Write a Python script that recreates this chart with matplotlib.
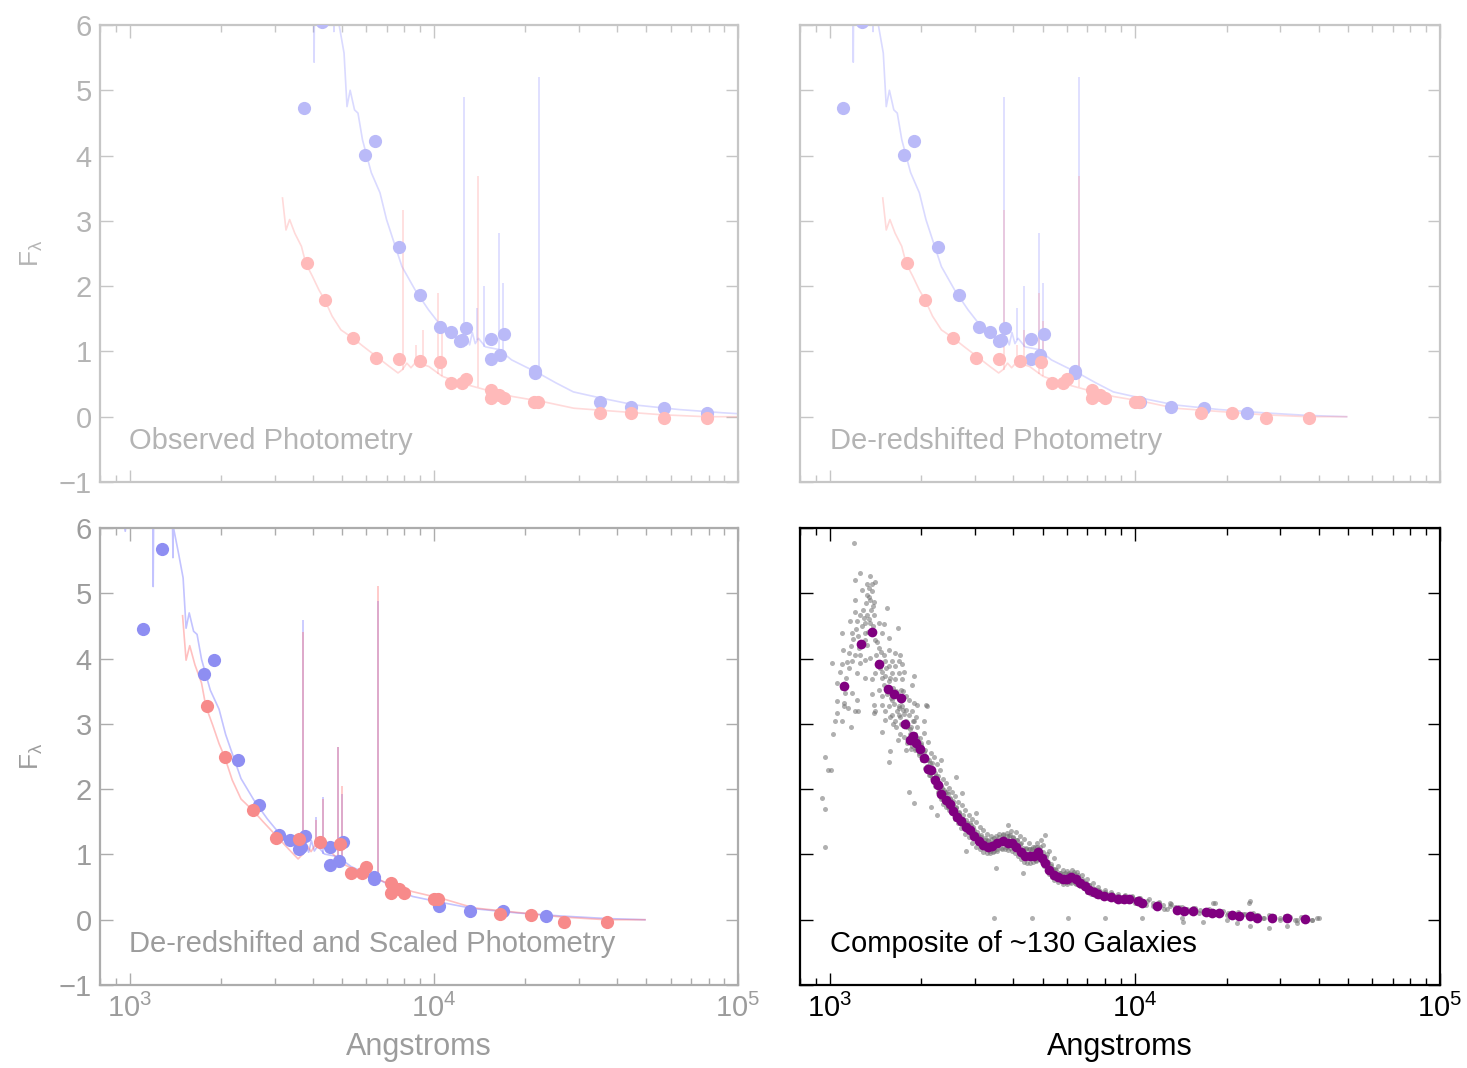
import numpy as np
import matplotlib
matplotlib.use('Agg')
import matplotlib.pyplot as plt

plt.rcParams['font.family'] = ['Liberation Sans', 'DejaVu Sans']
plt.rcParams['mathtext.default'] = 'regular'

# redshifts and scale factors of the two example galaxies
z_blue, z_red = 2.38, 1.13
scale_blue, scale_red = 0.94, 1.39

# rest-frame model spectra (flux in observed units)
blue_wave = np.array([950, 968, 985, 1192, 1196, 1200, 1385, 1389, 1393, 1449, 1500, 1534, 1571,
                      1624, 1667, 1725, 1843, 1969, 2069, 2175, 2325, 2570, 2840, 3138, 3461,
                      3707, 3800, 3880, 3960, 4050, 4150, 4373, 4833, 5333, 5888, 6518, 7443,
                      8506, 10380, 13540, 18890, 26360, 36810, 49430])
blue_flux = np.array([6.6, 6.33, 6.6, 6.6, 5.43, 6.6, 6.4, 5.9, 6.4, 5.97, 5.57, 4.75, 5.0,
                      4.70, 4.65, 4.24, 3.74, 3.43, 3.02, 2.71, 2.30, 1.94, 1.64, 1.38, 1.23,
                      1.07, 1.22, 1.10, 1.29, 1.12, 1.20, 1.07, 1.03, 0.87, 0.77, 0.67, 0.52,
                      0.38, 0.29, 0.18, 0.11, 0.06, 0.02, 0.0])
red_wave = np.array([1494, 1534, 1577, 1640, 1724, 1782, 1874, 1969, 2056, 2175, 2325, 2552,
                     2748, 3065, 3352, 3581, 3700, 3830, 3950, 4159, 4300, 4520, 5000, 5715,
                     6970, 8506, 10740, 13540, 18890, 26360, 36810, 49430])
red_flux = np.array([3.35, 2.86, 3.02, 2.81, 2.61, 2.35, 2.15, 1.94, 1.79, 1.54, 1.33, 1.20,
                     1.08, 0.91, 0.77, 0.67, 0.72, 0.82, 0.75, 0.87, 0.80, 0.77, 0.62, 0.52,
                     0.41, 0.31, 0.23, 0.13, 0.08, 0.03, 0.0, 0.0])

# emission lines: rest wavelength, continuum base, peak
line_wave = np.array([3727, 4102, 4340, 4861, 5007, 6563])
blue_line_base = np.array([1.08, 1.18, 1.07, 1.03, 1.0, 0.67])
blue_line_peak = np.array([4.89, 1.67, 2.0, 2.82, 2.05, 5.2])
red_line_base = np.array([0.72, 0.85, 0.82, 0.65, 0.62, 0.45])
red_line_peak = np.array([3.17, 1.1, 1.33, 1.9, 1.47, 3.68])

# observed photometry
blue_phot_wave = np.array([3735, 4306, 5930, 6400, 7680, 8995, 10470, 11380, 12170, 12360, 12740,
                           15400, 15400, 16480, 16990, 21480, 21480, 35170, 44460, 57140, 79030])
blue_phot_flux = np.array([4.73, 6.04, 4.01, 4.23, 2.60, 1.87, 1.38, 1.30, 1.16, 1.18, 1.36,
                           1.19, 0.89, 0.95, 1.26, 0.67, 0.70, 0.23, 0.15, 0.14, 0.06])
red_phot_wave = np.array([3820, 4375, 5418, 6444, 7670, 8995, 10470, 11380, 12360, 12740, 15400,
                          15400, 16370, 16990, 21340, 21980, 35170, 44460, 57140, 79030])
red_phot_flux = np.array([2.36, 1.79, 1.21, 0.90, 0.89, 0.86, 0.84, 0.52, 0.52, 0.58, 0.41,
                          0.29, 0.34, 0.29, 0.23, 0.23, 0.06, 0.05, -0.02, -0.02])

# composite (binned median) of ~130 galaxies
comp_wave = [1119, 1266, 1375, 1455, 1550, 1624, 1712, 1770, 1830, 1874, 1918, 1983, 2037, 2106,
             2154, 2212, 2264, 2325, 2404, 2486, 2545, 2614, 2702, 2793, 2888, 2984, 3084, 3188,
             3297, 3408, 3524, 3706, 3831, 3960, 4091, 4230, 4373, 4521, 4673, 4833, 4963, 5081,
             5253, 5431, 5615, 5801, 5998, 6200, 6411, 6628, 6853, 7085, 7325, 7573, 7957, 8363,
             8794, 9243, 9557, 10214, 10560, 11860, 13770, 14480, 15460, 17090, 17970, 18890,
             20890, 21930, 23840, 25060, 28180, 31620, 36140]
comp_flux = [3.58, 4.23, 4.40, 3.91, 3.53, 3.46, 3.40, 3.00, 2.75, 2.81, 2.71, 2.62, 2.48, 2.31,
             2.29, 2.14, 2.06, 1.92, 1.84, 1.78, 1.67, 1.57, 1.51, 1.42, 1.37, 1.29, 1.20, 1.15,
             1.12, 1.13, 1.18, 1.20, 1.18, 1.18, 1.12, 1.04, 0.98, 0.98, 0.98, 1.04, 0.95, 0.87,
             0.76, 0.68, 0.65, 0.62, 0.62, 0.65, 0.62, 0.57, 0.51, 0.46, 0.43, 0.40, 0.37, 0.35,
             0.32, 0.32, 0.32, 0.29, 0.26, 0.21, 0.15, 0.14, 0.14, 0.12, 0.11, 0.11, 0.08, 0.06,
             0.06, 0.03, 0.03, 0.03, 0.01]

# individual galaxy photometry behind the composite
grey_uv = [
    (1200, 5.77), (1262, 5.31), (1214, 5.21), (1361, 5.27), (1414, 5.17), (1344, 5.08), (1377, 5.03),
    (1327, 4.98), (1361, 4.90), (1396, 4.87), (1209, 4.90), (1537, 4.77), (1209, 4.71), (1262, 4.67),
    (1327, 4.67), (1396, 4.67), (1170, 4.57), (1230, 4.57), (1303, 4.54), (1361, 4.54), (1449, 4.54),
    (1505, 4.53), (1674, 4.47), (1098, 4.39), (1184, 4.39), (1310, 4.39), (1486, 4.39), (1563, 4.31),
    (1310, 4.29), (1414, 4.29), (1327, 4.21), (1246, 4.16), (1449, 4.16), (1104, 4.13), (1155, 4.08),
    (1209, 4.06), (1563, 4.13), (1644, 4.08), (1708, 4.06), (1505, 4.06), (1018, 3.93), (1098, 3.91),
    (1184, 3.96), (1262, 3.93), (1310, 3.98), (1361, 4.01), (1524, 3.96), (1603, 3.96), (1686, 3.96),
    (1563, 3.88), (1644, 3.88), (1729, 3.91), (1230, 3.78), (1414, 3.78), (1486, 3.80), (1524, 3.73),
    (1603, 3.78), (1686, 3.78), (1751, 3.80), (1889, 3.73), (1310, 3.70), (1377, 3.68), (1563, 3.65),
    (1644, 3.68), (1729, 3.68), (1865, 3.60), (1126, 3.47), (1184, 3.47), (1377, 3.45), (1449, 3.52),
    (1486, 3.42), (1603, 3.37), (1774, 3.42), (1820, 3.37), (1889, 3.32), (2064, 3.29), (1057, 3.35),
    (1112, 3.32), (1230, 3.37), (1396, 3.29), (1486, 3.29), (1563, 3.27), (1686, 3.27), (1774, 3.22),
    (1865, 3.19), (1112, 3.27), (1057, 3.17), (1236, 3.19), (1414, 3.19), (1524, 3.19), (1603, 3.14),
    (1686, 3.14), (1820, 3.14), (1914, 3.11), (1524, 3.06), (1644, 3.04), (1774, 3.04), (1889, 3.04),
    (2037, 3.04), (1650, 2.95), (1700, 2.85), (1720, 3.00), (1760, 2.80), (1790, 2.95), (1800, 2.70),
    (1830, 2.85), (1850, 2.62), (1700, 3.10), (1750, 3.15), (1680, 2.75), (1620, 3.00), (1580, 3.10),
    (1850, 2.95), (1780, 2.60),
    (1060, 3.62), (1080, 3.80), (1095, 3.55), (1130, 3.70), (1140, 3.95), (1160, 3.85), (1175, 4.20),
    (1190, 4.30), (1220, 4.45), (1240, 4.35), (1255, 4.05), (1280, 4.50), (1290, 4.75), (1300, 4.62),
    (1320, 4.85), (1335, 4.40), (1350, 4.60), (1370, 4.75), (1385, 4.50), (1400, 4.40), (1420, 4.05),
    (1430, 4.25), (1445, 3.95), (1460, 3.85), (1470, 4.10), (1490, 3.70), (1510, 3.60), (1530, 3.85),
    (1545, 3.45), (1560, 3.55), (1580, 3.70), (1595, 3.40), (1610, 3.55), (1630, 3.30), (1650, 3.50),
    (1665, 3.20), (1680, 3.45), (1695, 3.25), (1720, 3.35), (1740, 3.50), (1280, 5.05), (1330, 5.15),
    (1350, 4.95), (1375, 5.15), (1390, 4.80), (1100, 3.05), (1150, 3.25), (1180, 2.95), (1030, 2.85),
    (1045, 3.05),
]
grey_band = [
    (1880, 3.05), (1905, 2.85), (1925, 2.62), (1940, 2.95), (1960, 2.55), (1985, 2.78),
    (2000, 2.70), (2020, 2.45), (2040, 2.86), (2060, 2.60), (2080, 2.35), (2095, 2.72),
    (2110, 2.45), (2130, 2.22), (2150, 2.55), (2165, 2.40), (2185, 2.15), (2205, 2.50),
    (2220, 2.25), (2240, 2.05), (2255, 2.38), (2270, 2.20), (2290, 1.95), (2305, 2.30),
    (2320, 2.05), (2340, 1.86), (2360, 2.15), (2375, 1.98), (2395, 1.80), (2410, 2.10),
    (2430, 1.95), (2450, 1.72), (2465, 2.02), (2480, 1.85), (2500, 1.70), (2520, 1.95),
    (2540, 1.82), (2560, 1.62), (2580, 1.90), (2600, 1.72), (2625, 1.55), (2645, 1.80),
    (2665, 1.65), (2690, 1.50), (2710, 1.75), (2735, 1.60), (2760, 1.42), (2780, 1.68),
    (2800, 1.52), (2830, 1.38), (2855, 1.60), (2880, 1.48), (2910, 1.32), (2935, 1.55),
    (2960, 1.42), (2990, 1.28), (3015, 1.50), (3040, 1.35), (3075, 1.22), (3100, 1.42),
    (3130, 1.30), (3160, 1.15), (3190, 1.38), (3220, 1.25), (3250, 1.08), (3280, 1.32),
    (3310, 1.20), (3345, 1.05), (3375, 1.28), (3410, 1.18), (3440, 1.03), (3470, 1.25),
    (3510, 1.20), (3545, 1.05), (3580, 1.26), (3620, 1.22), (3660, 1.08), (3700, 1.30),
    (3740, 1.25), (3780, 1.12), (3820, 1.33), (3860, 1.28), (3900, 1.10), (3945, 1.36),
    (3990, 1.25), (4030, 1.10), (4075, 1.35), (4120, 1.22), (4160, 1.08), (4205, 1.28),
    (4250, 1.18), (4300, 1.02), (4345, 1.24), (4390, 1.10), (4440, 0.98), (4490, 1.18),
    (4540, 1.08), (4590, 0.94), (4640, 1.12), (4690, 1.05), (4740, 0.92), (4790, 1.12),
    (4840, 1.08), (4890, 0.95), (4940, 1.22), (4990, 1.15), (5040, 0.98), (5090, 1.30),
    (5140, 1.00), (5200, 0.84), (5250, 1.05), (5310, 0.86), (5370, 0.74), (5430, 0.95),
    (5490, 0.78), (5550, 0.66), (5610, 0.82), (5680, 0.72), (5740, 0.60), (5800, 0.76),
    (5870, 0.70), (5940, 0.58), (6010, 0.74), (6080, 0.70), (6150, 0.58), (6220, 0.76),
    (6300, 0.70), (6380, 0.57), (6450, 0.73), (6530, 0.66), (6610, 0.54), (6700, 0.69),
    (6790, 0.60), (6880, 0.48), (6970, 0.62), (7070, 0.53), (7170, 0.43), (7270, 0.56),
    (7380, 0.47), (7490, 0.39), (7600, 0.50), (7720, 0.44), (7840, 0.36), (7960, 0.46),
    (8090, 0.40), (8220, 0.33), (8360, 0.43), (8500, 0.38), (8650, 0.31), (8800, 0.40),
    (8960, 0.35), (9120, 0.29), (9290, 0.38), (9460, 0.34), (9640, 0.28), (9820, 0.36),
    (10000, 0.32), (10200, 0.26), (10400, 0.34), (10650, 0.29), (10900, 0.23), (11150, 0.31),
    (11450, 0.25), (11750, 0.20), (12050, 0.27), (12400, 0.22), (12750, 0.17), (13100, 0.24),
    (13500, 0.19), (13900, 0.14), (14300, 0.20), (14800, 0.17), (15300, 0.12), (15800, 0.18),
    (16300, 0.15), (16900, 0.11), (17500, 0.16), (18100, 0.13), (18800, 0.09), (19500, 0.14),
    (20200, 0.11), (21000, 0.07), (21800, 0.12), (22600, 0.09), (23500, 0.05), (24400, 0.10),
    (25400, 0.07), (26400, 0.03), (27500, 0.08), (28600, 0.05), (29800, 0.02), (31000, 0.06),
    (32300, 0.04), (33600, 0.00), (35000, 0.04), (36500, 0.02), (38000, -0.01), (39500, 0.02),
]
grey_inner = [
    (1710, 3.52), (1725, 3.28), (1745, 3.22), (1760, 2.98), (1785, 3.02), (1810, 2.76),
    (1835, 2.92), (1860, 2.66), (1885, 2.84), (1910, 2.60), (1935, 2.78), (1960, 2.52),
    (1990, 2.68), (2010, 2.44), (2035, 2.57), (2060, 2.33), (2085, 2.45), (2110, 2.21),
    (2135, 2.40), (2160, 2.17), (2185, 2.29), (2210, 2.05), (2235, 2.20), (2260, 1.96),
    (2285, 2.09), (2310, 1.85), (2335, 2.02), (2360, 1.78), (2385, 1.96), (2410, 1.72),
    (2435, 1.92), (2460, 1.68), (2490, 1.87), (2515, 1.63), (2540, 1.78), (2570, 1.55),
    (2595, 1.71), (2630, 1.48), (2665, 1.63), (2700, 1.40), (2740, 1.54), (2780, 1.31),
    (2820, 1.48), (2860, 1.26), (2900, 1.45), (2940, 1.18), (2980, 1.38), (3020, 1.12),
    (3060, 1.30), (3100, 1.08), (3140, 1.26), (3180, 1.04), (3225, 1.22), (3270, 1.02),
    (3315, 1.22), (3360, 1.02), (3405, 1.23), (3450, 1.05), (3500, 1.28), (3550, 1.08),
    (3600, 1.31), (3650, 1.10), (3700, 1.32), (3750, 1.08), (3800, 1.29), (3850, 1.07),
    (3900, 1.30), (3950, 1.06), (4000, 1.27), (4050, 1.02), (4100, 1.22), (4150, 0.98),
    (4200, 1.16), (4250, 0.93), (4300, 1.10), (4350, 0.89), (4400, 1.08), (4450, 0.87),
    (4500, 1.09), (4550, 0.87), (4600, 1.09), (4650, 0.88), (4700, 1.12), (4750, 0.90),
    (4800, 1.18), (4850, 0.94), (4900, 1.12), (4950, 0.88), (5000, 1.04), (5050, 0.82),
    (5100, 0.96), (5150, 0.76), (5200, 0.89), (5250, 0.70), (5300, 0.83), (5350, 0.65),
    (5400, 0.78), (5450, 0.61), (5500, 0.76), (5600, 0.58), (5700, 0.72), (5800, 0.55),
    (5900, 0.71), (6000, 0.55), (6100, 0.72), (6200, 0.56), (6300, 0.73), (6400, 0.55),
    (6500, 0.68), (6600, 0.52), (6700, 0.63), (6800, 0.48), (6900, 0.57), (7000, 0.43),
    (7100, 0.53), (7200, 0.40), (7300, 0.49), (7450, 0.37), (7600, 0.46), (7800, 0.35),
    (8000, 0.42), (8200, 0.33), (8400, 0.40), (8600, 0.30), (8800, 0.37), (9050, 0.28),
    (9300, 0.37), (9550, 0.28), (9800, 0.35), (10050, 0.26), (10300, 0.33), (10650, 0.24),
    (11000, 0.29), (11500, 0.21), (12000, 0.25), (12500, 0.17), (13000, 0.21), (13500, 0.14),
    (14000, 0.19), (14700, 0.12), (15500, 0.18), (16200, 0.11), (17000, 0.15), (17800, 0.09),
    (19000, 0.13), (20000, 0.07), (21000, 0.11), (22000, 0.05), (23000, 0.09), (24000, 0.03),
    (25000, 0.07), (26500, 0.02), (28000, 0.05), (30000, 0.00), (32000, 0.04), (34000, -0.01),
    (36000, 0.03), (38000, 0.00), (40000, 0.02),
]
grey_outliers = [
    (963, 2.50), (985, 2.30), (1008, 2.30), (948, 1.87), (970, 1.70), (970, 1.12),
    (1215, 3.19), (1395, 3.17), (1486, 2.88), (1583, 2.58), (1563, 2.42), (1819, 1.96),
    (1890, 1.79), (2145, 1.73), (2255, 1.61), (2795, 1.05), (2090, 3.27), (1938, 3.29),
    (2310, 2.45), (2590, 2.19), (2725, 1.94), (3015, 1.63), (3505, 0.79), (3830, 1.45),
    (4290, 0.72), (3460, 0.02), (4620, 0.03), (6040, 0.02), (8010, 0.02), (10580, 0.03),
    (14300, 0.02), (23800, 0.29), (18310, 0.26), (13030, 0.26), (18100, 0.26), (23600, 0.26),
    (31550, -0.10), (23890, -0.10), (27450, -0.13), (21610, -0.05), (14420, -0.04),
    (16780, -0.03), (20030, 0.0), (34040, -0.05),
]

fig = plt.figure(figsize=(14.67, 10.68), dpi=100)
ax_tl = fig.add_axes([0.0682, 0.5487, 0.4349, 0.4279])
ax_tr = fig.add_axes([0.5453, 0.5487, 0.4363, 0.4279])
ax_bl = fig.add_axes([0.0682, 0.0777, 0.4349, 0.4279])
ax_br = fig.add_axes([0.5453, 0.0777, 0.4363, 0.4279])


def style_axes(ax, fg, edge, xlabels, ylabels):
    ax.set_xscale('log')
    ax.set_xlim(800, 1e5)
    ax.set_ylim(-1, 6)
    ax.set_yticks(range(-1, 7))
    ax.tick_params(which='both', direction='in', top=True, right=True, color=edge,
                   labelcolor=fg, labelsize=21, width=1)
    ax.tick_params(which='major', length=9, pad=6)
    ax.tick_params(which='minor', length=5)
    ax.tick_params(axis='y', which='minor', left=False, right=False)
    ax.tick_params(labelbottom=xlabels, labelleft=ylabels)
    for s in ax.spines.values():
        s.set_color(edge)
        s.set_linewidth(1.6)
    if xlabels:
        ax.set_xlabel('Angstroms', fontsize=22, color=fg, labelpad=7)
    if ylabels:
        ax.set_ylabel(r'F$_\lambda$', fontsize=19, color=fg, labelpad=10)


def draw_galaxies(ax, zb, zr, sb, sr, lc_b, lc_r, lalpha, pc_b, pc_r):
    ax.plot(blue_wave * (1 + zb), blue_flux * sb, color=lc_b, lw=1.2, alpha=lalpha, zorder=2)
    ax.vlines(line_wave * (1 + zb), blue_line_base * sb, blue_line_peak * sb,
              color=lc_b, lw=1.2, alpha=lalpha, zorder=2)
    ax.plot(red_wave * (1 + zr), red_flux * sr, color=lc_r, lw=1.2, alpha=lalpha, zorder=2)
    ax.vlines(line_wave * (1 + zr), red_line_base * sr, red_line_peak * sr,
              color=lc_r, lw=1.2, alpha=lalpha, zorder=2)
    ax.plot(blue_phot_wave / (1 + z_blue) * (1 + zb), blue_phot_flux * sb, 'o',
            color=pc_b, ms=9.5, mec='none', zorder=3)
    ax.plot(red_phot_wave / (1 + z_red) * (1 + zr), red_phot_flux * sr, 'o',
            color=pc_r, ms=9.5, mec='none', zorder=3)


faint_fg, faint_edge = '#b4b4b4', '#c6c6c6'
mid_fg, mid_edge = '#9c9c9c', '#acacac'

# observed frame
draw_galaxies(ax_tl, z_blue, z_red, 1, 1, '#8c8cff', '#ff8c8c', 0.32, '#babaf8', '#ffbaba')
style_axes(ax_tl, faint_fg, faint_edge, False, True)
ax_tl.text(0.045, 0.09, 'Observed Photometry', transform=ax_tl.transAxes,
           fontsize=21, color=faint_fg, va='center')

# rest frame
draw_galaxies(ax_tr, 0, 0, 1, 1, '#8c8cff', '#ff8c8c', 0.32, '#babaf8', '#ffbaba')
style_axes(ax_tr, faint_fg, faint_edge, False, False)
ax_tr.text(0.047, 0.09, 'De-redshifted Photometry', transform=ax_tr.transAxes,
           fontsize=21, color=faint_fg, va='center')

# rest frame and scaled
draw_galaxies(ax_bl, 0, 0, scale_blue, scale_red, '#7070ff', '#ff6a6a', 0.42, '#8e8ef2', '#f78a8a')
style_axes(ax_bl, mid_fg, mid_edge, True, True)
ax_bl.text(0.045, 0.09, 'De-redshifted and Scaled Photometry', transform=ax_bl.transAxes,
           fontsize=21, color=mid_fg, va='center')

# composite
grey = np.array(grey_uv + grey_band + grey_inner + grey_outliers)
ax_br.plot(grey[:, 0], grey[:, 1], 'o', color='#707070', alpha=0.55, ms=3.6, mec='none', zorder=2)
ax_br.plot(comp_wave, comp_flux, 'o', color='#800080', ms=7, mec='none', zorder=3)
style_axes(ax_br, 'black', 'black', True, False)
ax_br.text(0.047, 0.09, 'Composite of ~130 Galaxies', transform=ax_br.transAxes,
           fontsize=21, color='black', va='center')

fig.savefig('out.png', dpi=100)
